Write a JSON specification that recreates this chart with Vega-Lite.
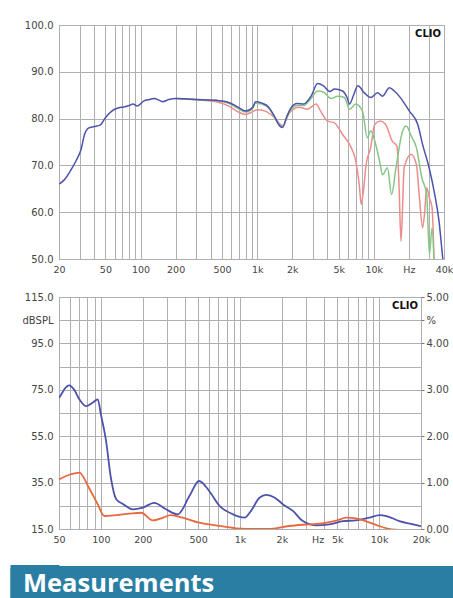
{
  "$schema": "https://vega.github.io/schema/vega-lite/v6.json",
  "padding": {"left": 6, "top": 19, "right": 0, "bottom": 0},
  "background": "white",
  "spacing": 20,
  "resolve": {"scale": {"color": "independent", "strokeWidth": "independent"}},
  "config": {
    "view": {"stroke": "#8a8a8a", "strokeWidth": 1},
    "axis": {"labelFont": "DejaVu Sans", "labelColor": "#444", "gridColor": "#b0b0b0", "gridWidth": 1, "domain": false, "ticks": false, "labelOverlap": false, "labelFlush": false}
  },
  "datasets": {
    "top": [
      {"s": "60", "f": 200, "db": 84.3}, {"s": "60", "f": 300, "db": 84.0}, {"s": "60", "f": 444, "db": 83.6}, {"s": "60", "f": 578, "db": 82.6}, {"s": "60", "f": 680, "db": 81.5}, {"s": "60", "f": 800, "db": 80.9}, {"s": "60", "f": 915, "db": 81.5}, {"s": "60", "f": 1000, "db": 81.9}, {"s": "60", "f": 1170, "db": 81.6}, {"s": "60", "f": 1400, "db": 80.3}, {"s": "60", "f": 1650, "db": 78.5}, {"s": "60", "f": 1900, "db": 81.3}, {"s": "60", "f": 2300, "db": 82.4}, {"s": "60", "f": 2700, "db": 82.0}, {"s": "60", "f": 3200, "db": 83.1}, {"s": "60", "f": 3500, "db": 81.6}, {"s": "60", "f": 4000, "db": 79.5}, {"s": "60", "f": 4600, "db": 79.1}, {"s": "60", "f": 5400, "db": 76.6}, {"s": "60", "f": 6400, "db": 73.8}, {"s": "60", "f": 7000, "db": 71.0}, {"s": "60", "f": 7500, "db": 66.0}, {"s": "60", "f": 7800, "db": 61.7}, {"s": "60", "f": 8100, "db": 64.0}, {"s": "60", "f": 8600, "db": 70.2}, {"s": "60", "f": 9400, "db": 73.8}, {"s": "60", "f": 10200, "db": 78.8}, {"s": "60", "f": 11400, "db": 79.5}, {"s": "60", "f": 12600, "db": 78.8}, {"s": "60", "f": 14400, "db": 75.2}, {"s": "60", "f": 15800, "db": 74.1}, {"s": "60", "f": 16500, "db": 65.0}, {"s": "60", "f": 17100, "db": 53.8}, {"s": "60", "f": 17600, "db": 60.0}, {"s": "60", "f": 18200, "db": 69.5}, {"s": "60", "f": 20900, "db": 72.4}, {"s": "60", "f": 23200, "db": 70.2}, {"s": "60", "f": 24500, "db": 63.8}, {"s": "60", "f": 26200, "db": 56.7}, {"s": "60", "f": 27300, "db": 60.0}, {"s": "60", "f": 28400, "db": 65.2}, {"s": "60", "f": 30000, "db": 63.0}, {"s": "60", "f": 31600, "db": 61.0}, {"s": "60", "f": 33000, "db": 48.0},
      {"s": "30", "f": 200, "db": 84.3}, {"s": "30", "f": 300, "db": 84.1}, {"s": "30", "f": 444, "db": 83.9}, {"s": "30", "f": 578, "db": 83.2}, {"s": "30", "f": 680, "db": 82.2}, {"s": "30", "f": 800, "db": 81.4}, {"s": "30", "f": 915, "db": 82.2}, {"s": "30", "f": 970, "db": 83.3}, {"s": "30", "f": 1100, "db": 83.1}, {"s": "30", "f": 1250, "db": 82.3}, {"s": "30", "f": 1400, "db": 80.4}, {"s": "30", "f": 1650, "db": 78.2}, {"s": "30", "f": 1800, "db": 80.3}, {"s": "30", "f": 1950, "db": 82.0}, {"s": "30", "f": 2200, "db": 82.8}, {"s": "30", "f": 2500, "db": 82.8}, {"s": "30", "f": 2900, "db": 84.3}, {"s": "30", "f": 3300, "db": 85.9}, {"s": "30", "f": 3700, "db": 85.7}, {"s": "30", "f": 4300, "db": 84.3}, {"s": "30", "f": 4900, "db": 84.8}, {"s": "30", "f": 5600, "db": 84.5}, {"s": "30", "f": 6200, "db": 82.0}, {"s": "30", "f": 7000, "db": 83.1}, {"s": "30", "f": 8000, "db": 81.6}, {"s": "30", "f": 8800, "db": 75.9}, {"s": "30", "f": 9400, "db": 77.4}, {"s": "30", "f": 10200, "db": 75.2}, {"s": "30", "f": 11200, "db": 71.0}, {"s": "30", "f": 11900, "db": 68.0}, {"s": "30", "f": 13100, "db": 69.5}, {"s": "30", "f": 14200, "db": 63.8}, {"s": "30", "f": 15500, "db": 69.5}, {"s": "30", "f": 17700, "db": 77.4}, {"s": "30", "f": 19000, "db": 78.4}, {"s": "30", "f": 20900, "db": 76.3}, {"s": "30", "f": 23200, "db": 73.8}, {"s": "30", "f": 25800, "db": 67.4}, {"s": "30", "f": 28400, "db": 63.8}, {"s": "30", "f": 30000, "db": 51.0}, {"s": "30", "f": 31600, "db": 56.7}, {"s": "30", "f": 33000, "db": 48.0},
      {"s": "0", "f": 20, "db": 66.0}, {"s": "0", "f": 22, "db": 66.8}, {"s": "0", "f": 25, "db": 68.8}, {"s": "0", "f": 28, "db": 71.0}, {"s": "0", "f": 31, "db": 73.5}, {"s": "0", "f": 33, "db": 76.5}, {"s": "0", "f": 36, "db": 78.0}, {"s": "0", "f": 40, "db": 78.3}, {"s": "0", "f": 45, "db": 78.6}, {"s": "0", "f": 50, "db": 80.2}, {"s": "0", "f": 56, "db": 81.5}, {"s": "0", "f": 63, "db": 82.2}, {"s": "0", "f": 72, "db": 82.5}, {"s": "0", "f": 80, "db": 82.8}, {"s": "0", "f": 86, "db": 83.1}, {"s": "0", "f": 94, "db": 82.7}, {"s": "0", "f": 107, "db": 83.8}, {"s": "0", "f": 120, "db": 84.1}, {"s": "0", "f": 131, "db": 84.3}, {"s": "0", "f": 145, "db": 83.9}, {"s": "0", "f": 155, "db": 83.6}, {"s": "0", "f": 175, "db": 84.1}, {"s": "0", "f": 202, "db": 84.3}, {"s": "0", "f": 250, "db": 84.2}, {"s": "0", "f": 300, "db": 84.1}, {"s": "0", "f": 370, "db": 84.0}, {"s": "0", "f": 444, "db": 83.9}, {"s": "0", "f": 520, "db": 83.7}, {"s": "0", "f": 578, "db": 83.4}, {"s": "0", "f": 680, "db": 82.5}, {"s": "0", "f": 800, "db": 81.6}, {"s": "0", "f": 915, "db": 82.4}, {"s": "0", "f": 970, "db": 83.6}, {"s": "0", "f": 1100, "db": 83.3}, {"s": "0", "f": 1250, "db": 82.5}, {"s": "0", "f": 1400, "db": 80.6}, {"s": "0", "f": 1550, "db": 78.5}, {"s": "0", "f": 1650, "db": 78.1}, {"s": "0", "f": 1800, "db": 80.5}, {"s": "0", "f": 1950, "db": 82.3}, {"s": "0", "f": 2200, "db": 83.2}, {"s": "0", "f": 2500, "db": 83.1}, {"s": "0", "f": 2900, "db": 84.8}, {"s": "0", "f": 3300, "db": 87.5}, {"s": "0", "f": 3700, "db": 87.0}, {"s": "0", "f": 4200, "db": 85.8}, {"s": "0", "f": 4600, "db": 86.3}, {"s": "0", "f": 5400, "db": 85.9}, {"s": "0", "f": 5900, "db": 84.5}, {"s": "0", "f": 6200, "db": 83.1}, {"s": "0", "f": 6700, "db": 85.0}, {"s": "0", "f": 7300, "db": 87.0}, {"s": "0", "f": 8300, "db": 85.5}, {"s": "0", "f": 9400, "db": 84.5}, {"s": "0", "f": 10800, "db": 85.5}, {"s": "0", "f": 11900, "db": 84.8}, {"s": "0", "f": 13600, "db": 86.6}, {"s": "0", "f": 15000, "db": 85.9}, {"s": "0", "f": 16500, "db": 84.8}, {"s": "0", "f": 17700, "db": 83.8}, {"s": "0", "f": 20200, "db": 81.6}, {"s": "0", "f": 23800, "db": 78.8}, {"s": "0", "f": 26200, "db": 74.5}, {"s": "0", "f": 29800, "db": 69.5}, {"s": "0", "f": 32900, "db": 64.5}, {"s": "0", "f": 36300, "db": 58.0}, {"s": "0", "f": 39000, "db": 50.3}, {"s": "0", "f": 40000, "db": 48.0}
    ],
    "bottom": [
      {"s": "dist", "f": 50, "db": 71.5}, {"s": "dist", "f": 52, "db": 73.1}, {"s": "dist", "f": 56, "db": 76.0}, {"s": "dist", "f": 59, "db": 76.9}, {"s": "dist", "f": 64, "db": 75.2}, {"s": "dist", "f": 70, "db": 70.9}, {"s": "dist", "f": 78, "db": 68.0}, {"s": "dist", "f": 87, "db": 69.4}, {"s": "dist", "f": 95, "db": 70.9}, {"s": "dist", "f": 100, "db": 64.4}, {"s": "dist", "f": 109, "db": 52.9}, {"s": "dist", "f": 118, "db": 37.1}, {"s": "dist", "f": 129, "db": 27.8}, {"s": "dist", "f": 143, "db": 25.9}, {"s": "dist", "f": 169, "db": 23.5}, {"s": "dist", "f": 200, "db": 24.2}, {"s": "dist", "f": 242, "db": 26.3}, {"s": "dist", "f": 294, "db": 23.5}, {"s": "dist", "f": 357, "db": 21.3}, {"s": "dist", "f": 433, "db": 29.2}, {"s": "dist", "f": 508, "db": 35.7}, {"s": "dist", "f": 600, "db": 31.4}, {"s": "dist", "f": 712, "db": 25.0}, {"s": "dist", "f": 892, "db": 21.3}, {"s": "dist", "f": 1080, "db": 19.9}, {"s": "dist", "f": 1200, "db": 22.8}, {"s": "dist", "f": 1380, "db": 28.5}, {"s": "dist", "f": 1550, "db": 29.7}, {"s": "dist", "f": 1780, "db": 28.5}, {"s": "dist", "f": 2040, "db": 25.6}, {"s": "dist", "f": 2400, "db": 22.8}, {"s": "dist", "f": 2830, "db": 18.4}, {"s": "dist", "f": 3500, "db": 16.6}, {"s": "dist", "f": 4400, "db": 17.0}, {"s": "dist", "f": 5500, "db": 18.4}, {"s": "dist", "f": 6800, "db": 18.7}, {"s": "dist", "f": 8500, "db": 19.9}, {"s": "dist", "f": 10100, "db": 21.0}, {"s": "dist", "f": 11300, "db": 20.6}, {"s": "dist", "f": 14000, "db": 18.4}, {"s": "dist", "f": 16600, "db": 17.3}, {"s": "dist", "f": 20000, "db": 16.2},
      {"s": "pct", "f": 50, "db": 36.4}, {"s": "pct", "f": 61, "db": 38.6}, {"s": "pct", "f": 70, "db": 39.3}, {"s": "pct", "f": 82, "db": 32.8}, {"s": "pct", "f": 95, "db": 25.6}, {"s": "pct", "f": 106, "db": 20.6}, {"s": "pct", "f": 129, "db": 21.0}, {"s": "pct", "f": 160, "db": 21.6}, {"s": "pct", "f": 195, "db": 22.0}, {"s": "pct", "f": 236, "db": 18.7}, {"s": "pct", "f": 280, "db": 19.9}, {"s": "pct", "f": 317, "db": 21.0}, {"s": "pct", "f": 387, "db": 19.9}, {"s": "pct", "f": 508, "db": 17.7}, {"s": "pct", "f": 712, "db": 16.3}, {"s": "pct", "f": 940, "db": 15.3}, {"s": "pct", "f": 1300, "db": 15.0}, {"s": "pct", "f": 1600, "db": 15.0}, {"s": "pct", "f": 2250, "db": 16.3}, {"s": "pct", "f": 3100, "db": 17.0}, {"s": "pct", "f": 4000, "db": 17.5}, {"s": "pct", "f": 5000, "db": 18.7}, {"s": "pct", "f": 5800, "db": 19.9}, {"s": "pct", "f": 6800, "db": 19.6}, {"s": "pct", "f": 8000, "db": 18.4}, {"s": "pct", "f": 9600, "db": 16.7}, {"s": "pct", "f": 11300, "db": 15.3}, {"s": "pct", "f": 14000, "db": 14.6}
    ]
  },
  "vconcat": [
    {
      "spacing": 17,
      "resolve": {"scale": {"color": "independent", "strokeWidth": "independent"}},
      "vconcat": [
        {
          "width": 385,
          "height": 234,
          "layer": [
            {
              "data": {"name": "top"},
              "mark": {"type": "line", "clip": true, "interpolate": "monotone"},
              "encoding": {
                "x": {"field": "f", "type": "quantitative", "title": null,
                  "scale": {"type": "log", "domain": [20, 40000], "nice": false},
                  "axis": {"values": [20, 30, 40, 50, 60, 70, 80, 90, 100, 200, 300, 400, 500, 600, 700, 800, 900, 1000, 2000, 3000, 4000, 5000, 6000, 7000, 8000, 9000, 10000, 20000, 30000, 40000],
                    "labelExpr": "indexof([20,50,100,200,500,1000,2000,5000,10000,20000,40000], datum.value) < 0 ? '' : (datum.value == 20000 ? 'Hz' : (datum.value >= 1000 ? (datum.value/1000) + 'k' : datum.value + ''))",
                    "labelFontSize": 9.5, "labelPadding": 5}},
                "y": {"field": "db", "type": "quantitative", "title": null,
                  "scale": {"domain": [50, 100], "nice": false},
                  "axis": {"values": [50, 55, 60, 65, 70, 75, 80, 85, 90, 95, 100],
                    "labelExpr": "datum.value == 95 ? 'dBSPL' : (datum.value % 10 == 0 ? format(datum.value, '.1f') : '')",
                    "labelFontSize": 10, "labelPadding": 6, "minExtent": 52, "maxExtent": 52}},
                "color": {"field": "s", "type": "nominal", "legend": null,
                  "scale": {"domain": ["60", "30", "0"], "range": ["#ec8c8c", "#86c686", "#4d52ab"]}},
                "strokeWidth": {"field": "s", "type": "nominal", "legend": null,
                  "scale": {"domain": ["60", "30", "0"], "range": [1.5, 1.5, 2]}}
              }
            },
            {
              "data": {"values": [{"t": "CLIO"}]},
              "mark": {"type": "text", "align": "right", "baseline": "top", "dx": -3, "dy": 4, "font": "DejaVu Sans", "fontWeight": "bold", "fontSize": 10, "color": "#111"},
              "encoding": {
                "x": {"datum": 40000, "type": "quantitative"},
                "y": {"datum": 100, "type": "quantitative"},
                "text": {"field": "t"}
              }
            }
          ]
        },
        {
          "width": 362,
          "height": 232,
          "resolve": {"axis": {"y": "independent"}},
          "layer": [
            {
              "data": {"name": "bottom"},
              "mark": {"type": "line", "clip": true, "interpolate": "monotone", "strokeWidth": 1.8},
              "encoding": {
                "x": {"field": "f", "type": "quantitative", "title": null,
                  "scale": {"type": "log", "domain": [50, 20000], "nice": false},
                  "axis": {"values": [50, 60, 70, 80, 90, 100, 200, 300, 400, 500, 600, 700, 800, 900, 1000, 2000, 3000, 4000, 5000, 6000, 7000, 8000, 9000, 10000, 20000],
                    "labelExpr": "datum.value == 4000 ? 'Hz' : (indexof([50,100,200,500,1000,2000,5000,10000,20000], datum.value) < 0 ? '' : (datum.value >= 1000 ? (datum.value/1000) + 'k' : datum.value + ''))",
                    "labelAlign": {"condition": {"test": "datum.value == 4000", "value": "right"}, "value": "center"},
                    "labelFontSize": 9.5, "labelPadding": 5}},
                "y": {"field": "db", "type": "quantitative", "title": null,
                  "scale": {"domain": [15, 115], "nice": false},
                  "axis": {"orient": "left", "values": [15, 25, 35, 45, 55, 65, 75, 85, 95, 105, 115],
                    "labelExpr": "datum.value == 105 ? 'dBSPL' : ((datum.value - 15) % 20 == 0 ? format(datum.value, '.1f') : '')",
                    "labelFontSize": 10, "labelPadding": 6, "minExtent": 52, "maxExtent": 52}},
                "color": {"field": "s", "type": "nominal", "legend": null,
                  "scale": {"domain": ["dist", "pct"], "range": ["#4d52ab", "#e8683e"]}}
              }
            },
            {
              "data": {"values": [{"t": "CLIO"}]},
              "mark": {"type": "text", "align": "right", "baseline": "top", "dx": -3, "dy": 4, "font": "DejaVu Sans", "fontWeight": "bold", "fontSize": 10, "color": "#111"},
              "encoding": {
                "x": {"datum": 20000, "type": "quantitative"},
                "y": {"datum": 115, "type": "quantitative", "title": null,
                  "axis": {"orient": "right", "values": [15, 35, 55, 75, 95, 105, 115], "grid": false, "ticks": true, "tickSize": 3, "tickColor": "#777",
                    "labelExpr": "datum.value == 105 ? '%' : format((datum.value - 15) / 20, '.2f')",
                    "labelFontSize": 10, "labelPadding": 2}},
                "text": {"field": "t"}
              }
            }
          ]
        }
      ]
    },
    {
      "width": 395,
      "height": 36,
      "view": {"fill": "#2a7ea4", "stroke": null},
      "data": {"values": [{"label": "Measurements", "pos": 0, "mid": 0.5}]},
      "mark": {"type": "text", "align": "left", "baseline": "middle", "dx": -36, "dy": 0, "font": "Open Sans", "fontWeight": "bold", "fontSize": 25.5, "color": "white"},
      "encoding": {
        "x": {"field": "pos", "type": "quantitative", "scale": {"domain": [0, 1]}, "axis": null},
        "y": {"field": "mid", "type": "quantitative", "title": null, "scale": {"domain": [0, 1]},
          "axis": {"values": [0.0417, 0.125, 0.2083, 0.2917, 0.375, 0.4583, 0.5417, 0.625, 0.7083, 0.7917, 0.875, 0.9583], "labels": false, "grid": false, "domain": false, "ticks": true, "tickSize": 49, "tickWidth": 6, "tickCap": "butt", "tickRound": false, "tickColor": "#2a7ea4", "minExtent": 52, "maxExtent": 52}},
        "text": {"field": "label"}
      }
    }
  ]
}
